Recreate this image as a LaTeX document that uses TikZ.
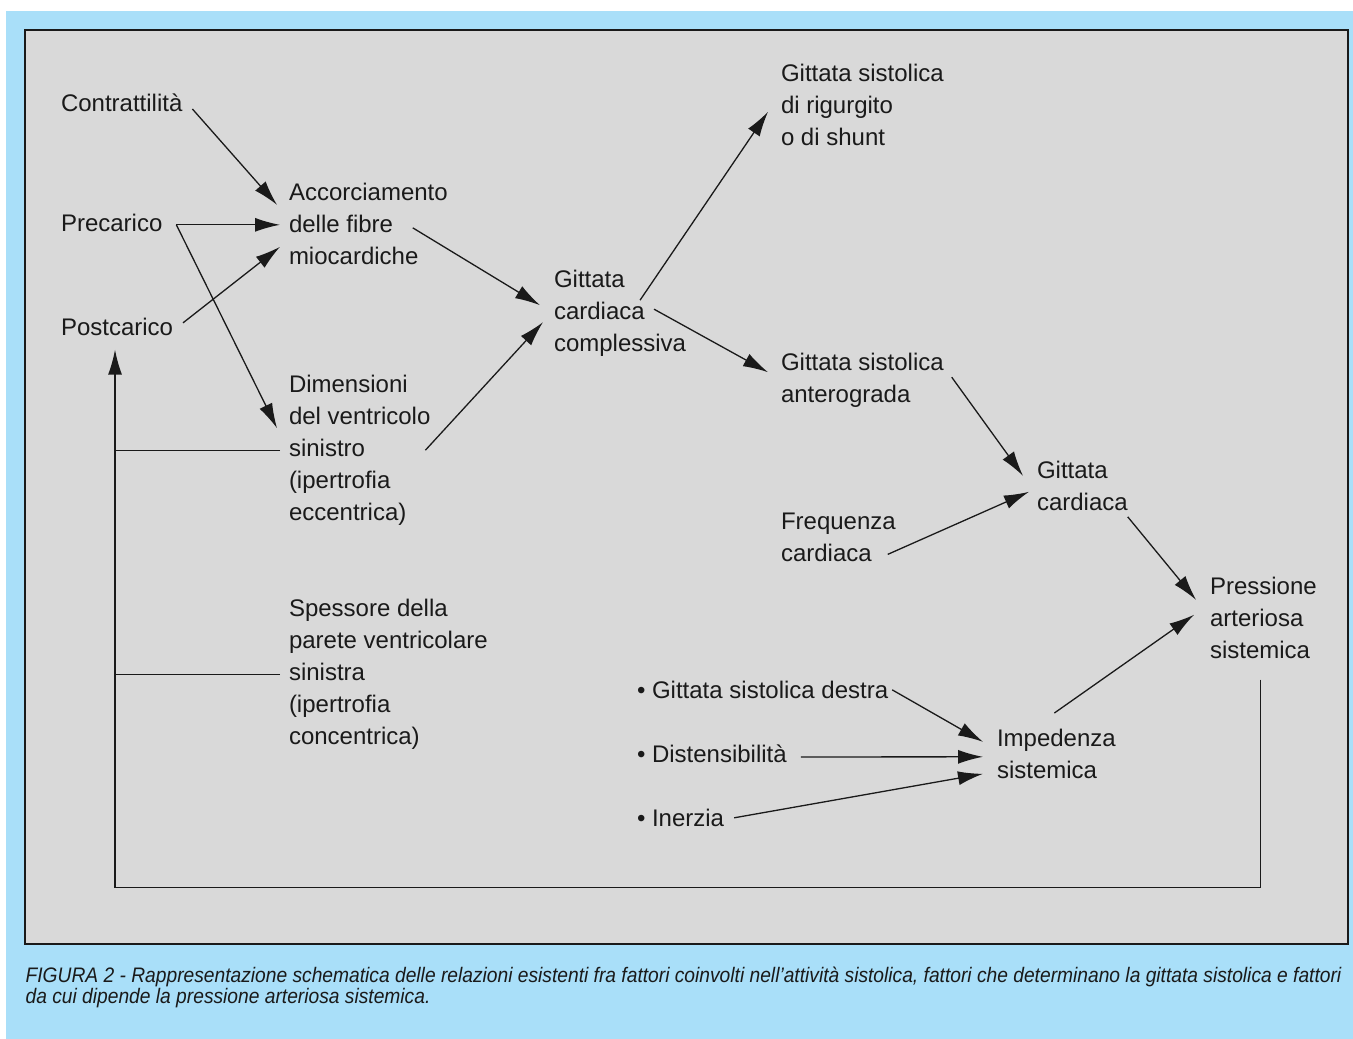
\documentclass[tikz,border=0pt]{standalone}
\usepackage{fontspec}
\setmainfont{Liberation Sans}
\newfontfamily\capfont{Liberation Sans}[FakeStretch=0.915]
\usetikzlibrary{arrows.meta,calc}
\definecolor{bgblue}{HTML}{A9DFF9}
\definecolor{panelgrey}{HTML}{D9D9D9}
\definecolor{ink}{HTML}{1A1A1A}
\begin{document}
\begin{tikzpicture}[x=1pt, y=-1pt, line width=1.3pt, ink,
  main node/.style={anchor=north west, inner sep=0pt, outer sep=0pt, align=left, text=ink, font=\fontsize{24}{32}\selectfont},
  arr/.style={-{Latex[length=25pt,width=14pt]}}]
\useasboundingbox (0,0) rectangle (1353,1039);
%background and panel
\fill[bgblue] (6,11) rectangle (1353,1039);
\draw[fill=panelgrey, draw=ink, line width=1.5pt] (25,30) rectangle (1348,944);
\begin{scope}
\node[main node] (contr) at (61,94) {Contrattilità};
\node[main node] (pre) at (61,214) {Precarico};
\node[main node] (post) at (61,318) {Postcarico};
\node[main node] (acc) at (289,183) {Accorciamento\\delle fibre\\miocardiche};
\node[main node] (dim) at (289,375) {Dimensioni\\del ventricolo\\sinistro\\(ipertrofia\\eccentrica)};
\node[main node] (spe) at (289,599) {Spessore della\\parete ventricolare\\sinistra\\(ipertrofia\\concentrica)};
\node[main node] (gcc) at (554,270) {Gittata\\cardiaca\\complessiva};
\node[main node] (rig) at (781,64) {Gittata sistolica\\di rigurgito\\o di shunt};
\node[main node] (ant) at (781,353) {Gittata sistolica\\anterograda};
\node[main node] (freq) at (781,513) {Frequenza\\cardiaca};
\node[main node] (gc) at (1037,461) {Gittata\\cardiaca};
\node[main node] (pas) at (1210,577) {Pressione\\arteriosa\\sistemica};
\node[main node] (gsd) at (637,681) {• Gittata sistolica destra};
\node[main node] (dist) at (637,745) {• Distensibilità};
\node[main node] (iner) at (637,809) {• Inerzia};
\node[main node] (imp) at (997,729) {Impedenza\\sistemica};
\end{scope}
\begin{scope}
\draw[arr] ([xshift=10pt,yshift=-6pt]contr.east) -- ([xshift=-12pt,yshift=19pt]acc.west);
\draw[arr] ([xshift=14pt,yshift=-2pt]pre.east) -- ([xshift=-9pt,yshift=-1pt]acc.west);
\draw[arr] ([xshift=10pt,yshift=4pt]post.east) -- ([xshift=-9pt,yshift=-23pt]acc.west);
\draw[arr] ([xshift=14pt,yshift=-2pt]pre.east) -- ([xshift=-12pt,yshift=22pt]dim.west);
\draw[arr] ([xshift=-35pt,yshift=-4pt]acc.east) -- ([xshift=-14pt,yshift=8pt]gcc.west);
\draw[arr] ([xshift=-5pt]dim.east) -- ([xshift=-11pt,yshift=-9pt]gcc.west);
\draw[arr] ([xshift=-46pt,yshift=13pt]gcc.east) -- ([xshift=-13pt,yshift=-7pt]rig.west);
\draw[arr] ([xshift=-32pt,yshift=4pt]gcc.east) -- ([xshift=-13pt,yshift=8pt]ant.west);
\draw[arr] ([xshift=8pt,yshift=3pt]ant.east) -- ([xshift=-14pt,yshift=10pt]gc.west);
\draw[arr] ([xshift=-8pt,yshift=-17pt]freq.east) -- ([xshift=-8pt,yshift=-6pt]gc.west);
\draw[arr] ([xshift=0pt,yshift=-31pt]gc.east) -- ([xshift=-14pt,yshift=18pt]pas.west);
\draw[arr] ([xshift=-2pt,yshift=16pt]imp.north) -- ([xshift=-16pt,yshift=3pt]pas.west);
\draw[arr] ([xshift=4pt]gsd.east) -- ([xshift=-14pt,yshift=12pt]imp.west);
\draw[arr] ([xshift=14pt,yshift=-3pt]dist.east) -- ([xshift=-14pt,yshift=-3pt]imp.west);
\draw[arr] ([xshift=10pt]iner.east) -- ([xshift=-14pt,yshift=-20pt]imp.west);
%feedback loop
\coordinate (fb) at ([xshift=-2pt,yshift=-14pt]post.south);
\draw[arr] ([xshift=-3pt,yshift=-21pt]pas.south) -- ++(0,208) -| (fb);
\draw ([xshift=-9pt]dim.west) -- (fb |- dim.west);
\draw ([xshift=-9pt]spe.west) -- (fb |- spe.west);
\end{scope}
\node[anchor=north west, inner sep=0pt, align=left, text=ink, font=\capfont\itshape\fontsize{21}{21.5}\selectfont] (cap) at (25,966)
  {FIGURA 2 - Rappresentazione schematica delle relazioni esistenti fra fattori coinvolti nell’attività sistolica, fattori che determinano la gittata sistolica e fattori\\da cui dipende la pressione arteriosa sistemica.};
\end{tikzpicture}
\end{document}
